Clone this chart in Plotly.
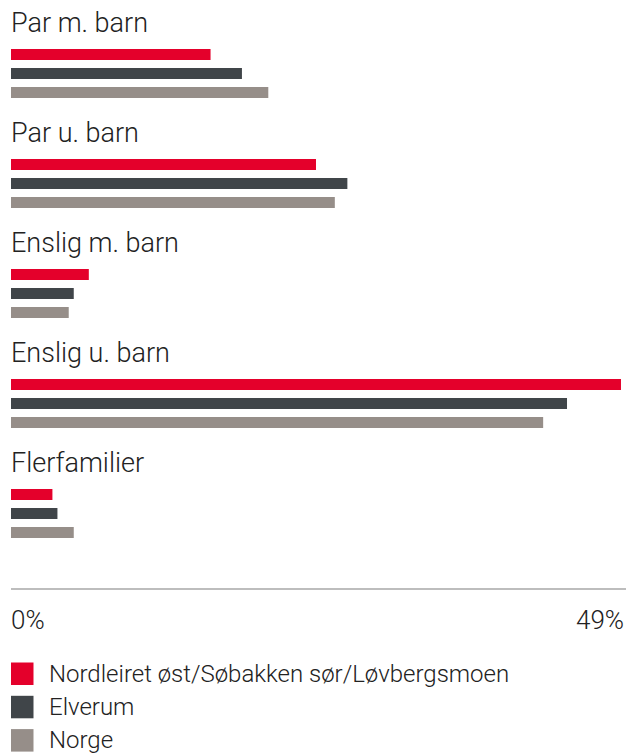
import plotly.graph_objects as go

categories = ["Par m. barn", "Par u. barn", "Enslig m. barn", "Enslig u. barn", "Flerfamilier"]
series_names = ["Nordleiret øst/Søbakken sør/Løvbergsmoen", "Elverum", "Norge"]
series_colors = ["#E4002B", "#404549", "#968E89"]
values_area = [15.9, 24.3, 6.2, 48.6, 3.3]
values_elverum = [18.4, 26.8, 5.0, 44.3, 3.7]
values_norge = [20.5, 25.8, 4.6, 42.4, 5.0]
series_values = [values_area, values_elverum, values_norge]
tick_vals = [0, 49]
tick_labels = ["0%", "49%"]

FONT = "Roboto Light, Roboto"
TEXT = "#222222"

W, H = 628, 753
plot_left = 11
plot_top = 18
plot_h = 570
plot_w = 615

fig = go.Figure()
for name, color, vals in zip(series_names, series_colors, series_values):
    fig.add_trace(go.Bar(
        y=categories, x=vals, name=name, orientation="h",
        marker=dict(color=color, line=dict(width=0)),
        showlegend=False, hoverinfo="x+y+name",
    ))

# category labels above each group
for cat in categories:
    fig.add_annotation(
        x=0, xref="paper", xanchor="left", xshift=-2,
        y=cat, yref="y", yanchor="middle", yshift=51,
        text=cat, showarrow=False,
        font=dict(family=FONT, size=27, color=TEXT, weight=300),
    )

# axis tick labels
for v, lab in zip(tick_vals, tick_labels):
    first = v == tick_vals[0]
    fig.add_annotation(
        x=v, xref="x", xanchor="left" if first else "right",
        xshift=-2 if first else 0,
        y=0, yref="paper", yanchor="middle", yshift=-32,
        text=lab, showarrow=False,
        font=dict(family=FONT, size=26, color=TEXT, weight=300),
    )

# custom legend
leg_top = 662.5
leg_step = 33.3
sq = 22.5
for i, (name, color) in enumerate(zip(series_names, series_colors)):
    y0px = leg_top + i * leg_step
    y0 = 1 - (y0px - plot_top) / plot_h
    y1 = 1 - (y0px + sq - plot_top) / plot_h
    fig.add_shape(type="rect", xref="paper", yref="paper",
                  x0=0, x1=sq / plot_w, y0=y1, y1=y0,
                  fillcolor=color, line=dict(width=0))
    fig.add_annotation(
        x=36 / plot_w, xref="paper", xanchor="left",
        y=(y0 + y1) / 2, yref="paper", yanchor="middle",
        text=name, showarrow=False,
        font=dict(family=FONT, size=24, color=TEXT, weight=300),
    )

fig.update_layout(
    width=W, height=H,
    margin=dict(l=plot_left, r=W - plot_left - plot_w, t=plot_top,
                b=H - plot_top - plot_h, pad=0),
    paper_bgcolor="white", plot_bgcolor="white",
    barmode="group", bargap=0.482, bargroupgap=0.42,
    xaxis=dict(range=[0, 49], showgrid=False, zeroline=False,
               showline=True, linecolor="#BDBDBD", linewidth=1.5,
               tickvals=tick_vals, showticklabels=False, ticks=""),
    yaxis=dict(categoryorder="array", categoryarray=categories,
               range=[4.677, -0.5045], showgrid=False, zeroline=False,
               showline=False, showticklabels=False, ticks=""),
    font=dict(family=FONT),
)

fig.write_html(
    "out.html",
    config={"displayModeBar": False},
    post_script="document.body.style.margin='0';document.body.style.overflow='hidden';",
)
